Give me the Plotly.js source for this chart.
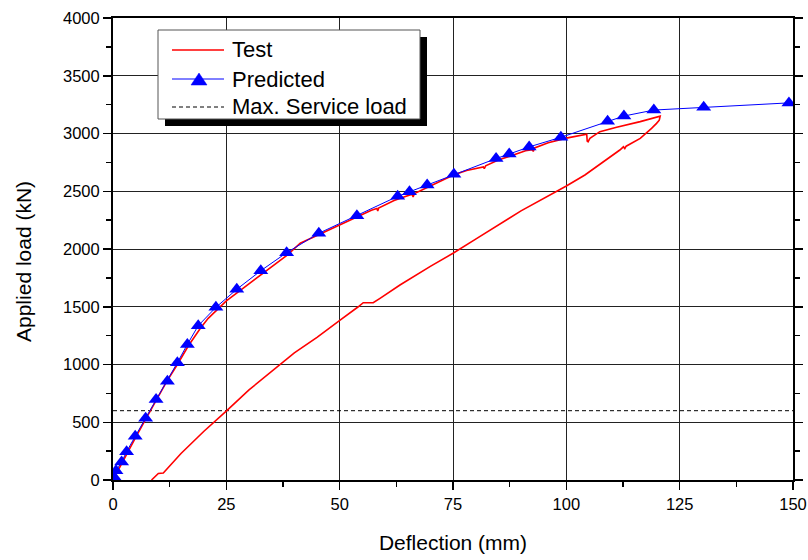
<!DOCTYPE html>
<html>
<head>
<meta charset="utf-8">
<script src="https://cdn.plot.ly/plotly-3.0.1.min.js"></script>
<style>
  html, body { margin: 0; padding: 0; background: #ffffff; }
  #chart { width: 808px; height: 560px; }
</style>
</head>
<body>
<div id="chart"></div>
<script>
// Test curve (loading then unloading), deflection (mm) vs load (kN)
const testX = [0, 1, 2, 3, 5, 7.4, 9.6, 11.8, 14.2, 16.6, 19.2, 21, 23, 25, 27.5, 30, 33, 36, 38.5, 41.3, 45.7, 50, 54, 57, 58.2, 58.4, 58.6, 62, 64.5, 66, 66.2, 66.5, 70, 75.1, 78, 81.7, 81.9, 82.2, 85, 88, 91, 92.5, 92.7, 93, 96, 100, 104.5, 104.6, 104.8, 105.2, 107.4, 111.1, 113, 116.3, 120.7,
  120.5, 119.9, 118.8, 116.3, 113.2, 112.9, 112.6, 111.8, 104.1, 100, 90, 80, 75.1, 70, 63.3, 58.9, 57.4, 55.2, 54.1, 50.1, 45, 40, 36.8, 30, 25.1, 20, 15, 11.1, 10, 9.6, 8.5];
const testY = [0, 75, 150, 230, 370, 540, 700, 850, 1000, 1160, 1310, 1400, 1475, 1550, 1625, 1700, 1790, 1880, 1950, 2050, 2130, 2210, 2285, 2335, 2350, 2330, 2355, 2420, 2455, 2475, 2450, 2480, 2545, 2641, 2680, 2710, 2695, 2720, 2770, 2810, 2850, 2860, 2845, 2875, 2920, 2960, 2993, 2935, 2929, 2958, 3016, 3054, 3070, 3103, 3150,
  3115, 3088, 3045, 2958, 2890, 2870, 2885, 2857, 2641, 2545, 2330, 2085, 1965, 1850, 1688, 1573, 1535, 1535, 1500, 1385, 1235, 1100, 1000, 780, 600, 420, 230, 60, 57, 43, 0];

// Predicted curve
const predX = [0.2, 0.66, 1.9, 3.0, 4.9, 7.2, 9.5, 12.0, 14.2, 16.4, 18.8, 22.7, 27.3, 32.6, 38.3, 45.4, 53.8, 62.8, 65.4, 69.3, 75.2, 84.5, 87.4, 91.8, 98.8, 109.1, 112.7, 119.3, 130.3, 149.1];
const predY = [29, 80, 155, 245, 378, 534, 696, 854, 1016, 1174, 1336, 1495, 1651, 1812, 1968, 2136, 2288, 2456, 2495, 2554, 2648, 2783, 2822, 2884, 2967, 3105, 3151, 3203, 3228, 3265];

// Max. service load
const serviceX = [0, 150];
const serviceY = [600, 600];

// Legend labels and axis titles
const legendLabels = ["Test", "Predicted", "Max. Service load"];
const xTitle = "Deflection (mm)";
const yTitle = "Applied load (kN)";

const FONT = "Arial, 'Liberation Sans', sans-serif";

const traces = [
  { x: serviceX, y: serviceY, mode: "lines", name: legendLabels[2],
    line: { color: "#000000", width: 1, dash: "4px,3px" }, hoverinfo: "skip" },
  { x: testX, y: testY, mode: "lines", name: legendLabels[0],
    line: { color: "#ff0000", width: 1.6 } },
  { x: predX, y: predY, mode: "lines+markers", name: legendLabels[1],
    line: { color: "#0000ff", width: 1 },
    marker: { symbol: "triangle-up", size: 13, color: "#0000ff" } }
];

// manual legend (paper coordinates; plot area 680 x 462 px)
const PW = 680, PH = 462, L = 113, T = 18;
const px = v => (v - L) / PW;
const py = v => (T + PH - v) / PH;

const shapes = [
  { type: "rect", xref: "paper", yref: "paper", x0: px(165), x1: px(427), y0: py(126), y1: py(37),
    fillcolor: "#000000", line: { width: 0 }, layer: "above" },
  { type: "rect", xref: "paper", yref: "paper", x0: px(158), x1: px(420), y0: py(119), y1: py(30),
    fillcolor: "#ffffff", line: { color: "#555555", width: 1 }, layer: "above" },
  { type: "line", xref: "paper", yref: "paper", x0: px(172), x1: px(224), y0: py(50), y1: py(50),
    line: { color: "#ff0000", width: 1.6 }, layer: "above" },
  { type: "line", xref: "paper", yref: "paper", x0: px(172), x1: px(224), y0: py(79), y1: py(79),
    line: { color: "#0000ff", width: 1 }, layer: "above" },
  { type: "path", xref: "paper", yref: "paper",
    path: "M " + px(191) + "," + py(85) + " L " + px(207) + "," + py(85) + " L " + px(199) + "," + py(73) + " Z",
    fillcolor: "#0000ff", line: { color: "#0000ff", width: 0.5 }, layer: "above" },
  { type: "line", xref: "paper", yref: "paper", x0: px(172), x1: px(224), y0: py(107), y1: py(107),
    line: { color: "#000000", width: 1, dash: "4px,3px" }, layer: "above" }
];

const annotations = legendLabels.map((t, i) => ({
  xref: "paper", yref: "paper", x: px(230), y: py([50, 79, 107][i]),
  xanchor: "left", yanchor: "middle", text: t, showarrow: false,
  font: { family: FONT, size: 22, color: "#000000" }
}));
annotations.push({
  xref: "paper", yref: "paper", x: px(23), y: py(262), textangle: -90,
  xanchor: "center", yanchor: "middle", text: yTitle, showarrow: false,
  font: { family: FONT, size: 21, color: "#000000" }
});

const layout = {
  width: 808, height: 560,
  margin: { l: 113, r: 15, t: 18, b: 80 },
  paper_bgcolor: "#ffffff", plot_bgcolor: "#ffffff",
  showlegend: false,
  font: { family: FONT, color: "#000000", size: 16 },
  xaxis: {
    range: [0, 150], dtick: 25, tick0: 0,
    showgrid: true, gridcolor: "#222222", gridwidth: 1,
    zeroline: false,
    showline: true, linecolor: "#000000", linewidth: 2, mirror: true,
    ticks: "outside", ticklen: 8, tickwidth: 1.5, tickcolor: "#000000",
    minor: { dtick: 12.5, ticks: "outside", ticklen: 5, tickwidth: 1.5, tickcolor: "#000000", showgrid: false },
    tickfont: { family: FONT, size: 16.5, color: "#000000" },
    title: { text: xTitle, font: { family: FONT, size: 21, color: "#000000" }, standoff: 24 }
  },
  yaxis: {
    range: [0, 4000], dtick: 500, tick0: 0,
    showgrid: true, gridcolor: "#222222", gridwidth: 1,
    zeroline: false,
    showline: true, linecolor: "#000000", linewidth: 2, mirror: "ticks",
    ticks: "outside", ticklen: 8, tickwidth: 1.5, tickcolor: "#000000",
    minor: { dtick: 250, ticks: "outside", ticklen: 5, tickwidth: 1.5, tickcolor: "#000000", showgrid: false },
    tickfont: { family: FONT, size: 16.5, color: "#000000" }
  },
  shapes: shapes,
  annotations: annotations
};

Plotly.newPlot("chart", traces, layout, { displayModeBar: false, staticPlot: true });
</script>
</body>
</html>
